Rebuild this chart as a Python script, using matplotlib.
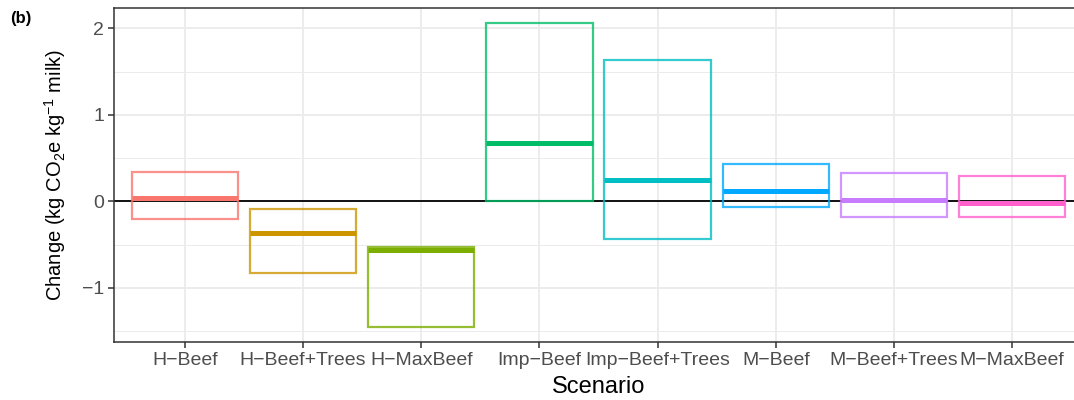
import numpy as np
import matplotlib.pyplot as plt
from matplotlib.patches import Rectangle

plt.rcParams['font.family'] = ['Liberation Sans', 'DejaVu Sans']
plt.rcParams['mathtext.fontset'] = 'custom'
plt.rcParams['mathtext.rm'] = 'Liberation Sans'
plt.rcParams['mathtext.it'] = 'Liberation Sans:italic'

scenarios = ['H\u2212Beef', 'H\u2212Beef+Trees', 'H\u2212MaxBeef', 'Imp\u2212Beef',
             'Imp\u2212Beef+Trees', 'M\u2212Beef', 'M\u2212Beef+Trees', 'M\u2212MaxBeef']
low = [-0.20, -0.83, -1.45, 0.00, -0.43, -0.07, -0.18, -0.18]
mid = [0.04, -0.37, -0.56, 0.68, 0.25, 0.12, 0.02, -0.02]
high = [0.34, -0.085, -0.53, 2.06, 1.63, 0.43, 0.33, 0.29]
colors = ['#F8766D', '#CD9600', '#7CAE00', '#00BE67', '#00BFC4', '#00A9FF', '#C77CFF', '#FF61CC']

fig = plt.figure(figsize=(10.74, 4.0), dpi=100)
# panel runs a little past the right edge of the figure
ax = fig.add_axes([0.1061, 0.145, 0.9023, 0.835])

x = np.arange(1, len(scenarios) + 1)
width = 0.9

ax.axhline(0, color='black', lw=1.3, zorder=2)
for i in range(len(scenarios)):
    ax.add_patch(Rectangle((x[i] - width / 2, low[i]), width, high[i] - low[i],
                           fill=False, edgecolor=colors[i], lw=1.6, alpha=0.8, zorder=3))
    ax.plot([x[i] - width / 2, x[i] + width / 2], [mid[i], mid[i]],
            color=colors[i], lw=3.6, solid_capstyle='butt', zorder=4)

# ggplot style limits: discrete expansion of 0.6, continuous 5%
ax.set_xlim(0.4, len(scenarios) + 0.6)
lo, hi = min(low), max(high)
pad = (hi - lo) * 0.05
ax.set_ylim(lo - pad, hi + pad)

ax.set_xticks(x)
ax.set_xticklabels(scenarios)
ax.set_yticks([-1, 0, 1, 2])
ax.set_yticklabels(['\u22121', '0', '1', '2'])
ax.set_yticks([-1.5, -0.5, 0.5, 1.5], minor=True)
ax.tick_params(which='major', length=4, width=1.1, color='#333333',
               labelcolor='#4D4D4D', labelsize=14, pad=3)
ax.tick_params(which='minor', length=0)
ax.grid(which='major', color='#EBEBEB', lw=1.3, zorder=0)
ax.grid(which='minor', axis='y', color='#EBEBEB', lw=0.7, zorder=0)
ax.set_axisbelow(True)
for s in ax.spines.values():
    s.set_color('#333333')
    s.set_linewidth(1.1)
ax.spines['right'].set_visible(False)

ax.set_xlabel('Scenario', fontsize=17, labelpad=5)
ax.set_ylabel(r'Change (kg CO$_2$e kg$^{-1}$ milk)', fontsize=14.5, labelpad=10)

fig.text(0.009, 0.955, '(b)', fontsize=12, fontweight='bold', ha='left', va='center')

fig.savefig('out.png', dpi=100)
